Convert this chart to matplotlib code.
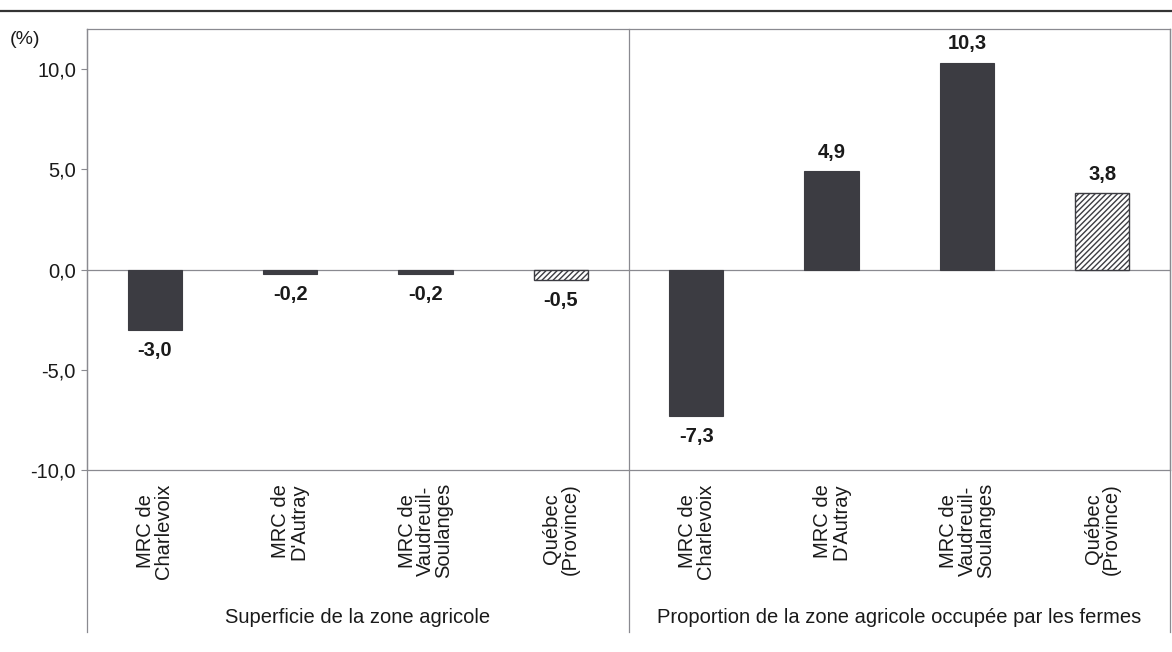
import numpy as np
import matplotlib
matplotlib.use("Agg")
import matplotlib.pyplot as plt
from matplotlib.lines import Line2D

plt.rcParams['font.family'] = ['Liberation Sans', 'DejaVu Sans']

# Data
categories = ["MRC de\nCharlevoix", "MRC de\nD'Autray", "MRC de\nVaudreuil-\nSoulanges", "Québec\n(Province)"]
groups = ["Superficie de la zone agricole", "Proportion de la zone agricole occupée par les fermes"]
superficie = [-3.0, -0.2, -0.2, -0.5]
proportion = [-7.3, 4.9, 10.3, 3.8]
yticks = [-10, -5, 0, 5, 10]

values = superficie + proportion
labels = categories + categories
hatched = [False, False, False, True, False, False, False, True]

dark = '#3c3c42'
grey = '#8a8a90'
ink = '#1a1a1a'

fig = plt.figure(figsize=(11.72, 6.52), dpi=100)
ax = fig.add_axes([87 / 1172, 1 - 470 / 652, (1170 - 87) / 1172, 441 / 652])

x = np.arange(len(values))
for i, v in enumerate(values):
    if hatched[i]:
        ax.bar(x[i], v, width=0.4, color='white', edgecolor=dark, hatch='//////', linewidth=1.0, zorder=3)
    else:
        ax.bar(x[i], v, width=0.4, color=dark, edgecolor=dark, linewidth=0.8, zorder=3)
    txt = f"{v:.1f}".replace('.', ',')
    if v >= 0:
        ax.annotate(txt, (x[i], v), xytext=(0, 7), textcoords='offset points',
                    ha='center', va='bottom', fontsize=14.5, fontweight='bold', color=ink)
    else:
        ax.annotate(txt, (x[i], v), xytext=(0, -8), textcoords='offset points',
                    ha='center', va='top', fontsize=14.5, fontweight='bold', color=ink)

ax.set_xlim(-0.5, 7.5)
ax.set_ylim(-10, 12)
ax.set_yticks(yticks)
ax.set_yticklabels([f"{t:.1f}".replace('.', ',') for t in yticks], fontsize=14.5, color=ink)
ax.tick_params(axis='y', length=4, width=0.8, color=grey, pad=4)
ax.set_xticks([])
for s in ax.spines.values():
    s.set_color(grey)
    s.set_linewidth(0.9)
ax.axhline(0, color=grey, lw=0.9, zorder=2)

# vertical separators extending below the axis
trans = ax.get_xaxis_transform()
for xv in [-0.5, 3.5, 7.5]:
    ax.plot([xv, xv], [-0.368, 1], transform=trans, color=grey, lw=0.9, clip_on=False)

# category labels
for i, lab in enumerate(labels):
    ax.text(x[i], -0.03, lab, transform=trans, rotation=90, ha='center', va='top',
            multialignment='center', fontsize=14.5, color=ink, linespacing=0.95)

# group labels
ax.text(1.5, -0.335, groups[0], transform=trans, ha='center', va='center', fontsize=14.5, color=ink)
ax.text(5.5, -0.335, groups[1], transform=trans, ha='center', va='center', fontsize=14.5, color=ink)

fig.text(10 / 1172, 1 - 40 / 652, "(%)", fontsize=14, ha='left', va='center', color=ink)
fig.add_artist(Line2D([0, 1], [1 - 11 / 652, 1 - 11 / 652], color='#333333', lw=1.6))

fig.savefig("out.png", dpi=100, facecolor='white')
